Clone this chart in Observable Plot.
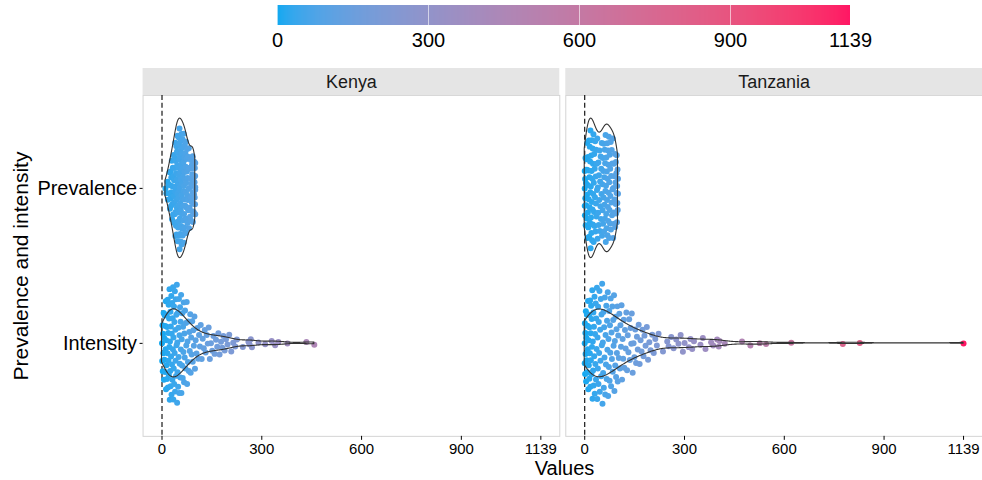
<!DOCTYPE html>
<html><head><meta charset="utf-8">
<script src="https://cdn.jsdelivr.net/npm/d3@7"></script>
<script src="https://cdn.jsdelivr.net/npm/@observablehq/plot@0.6"></script>
<style>
body{margin:0;background:#fff;font-family:"Liberation Sans",Arial,sans-serif;}
#wrap{position:relative;width:982px;height:480px;overflow:hidden;background:#fff;}
#legend{position:absolute;left:247px;top:0;}
#chart{position:absolute;left:0;top:60px;}
.t{position:absolute;color:#000;white-space:nowrap;line-height:20px;}
#chart [aria-label="x-axis tick"], #chart [aria-label="y-axis tick"]{stroke:#b3b3b3;}
</style></head><body>
<div id="wrap">
<div id="legend"></div>
<div id="chart"></div>
<div class="t" style="left:145px;width:839px;text-align:center;top:458px;font-size:20px;">Values</div>
<div class="t" style="left:-179px;top:256px;width:400px;text-align:center;font-size:21px;transform:rotate(-90deg);">Prevalence and intensity</div>
</div>
<script>
const countries = ["Kenya", "Tanzania"];
const metrics = ["Prevalence", "Intensity"];
const xTicks = [0, 300, 600, 900, 1139];
const colorLow = "#13a9f1", colorHigh = "#ff1764";

const kenyaPrevalence = [10.4,13.2,16.5,17.8,19.1,21.3,22.6,23.9,24.4,25.7,26.3,27.1,27.9,28.6,29.4,
30.2,31.1,31.8,32.5,33.3,34.0,34.8,35.2,35.9,36.4,37.0,37.6,38.1,38.7,39.3,39.8,
40.1,40.6,41.0,41.5,42.0,42.4,42.9,43.3,43.8,44.2,44.7,45.0,45.4,45.8,46.2,46.6,47.0,47.3,47.7,48.1,48.5,48.9,49.3,49.7,
50.0,50.4,50.7,51.1,51.5,51.8,52.2,52.6,52.9,53.3,53.7,54.0,54.4,54.8,55.1,55.5,55.9,56.3,56.7,57.0,57.4,57.8,58.2,58.6,59.0,59.4,59.8,
60.2,60.6,61.0,61.4,61.9,62.3,62.7,63.1,63.5,63.9,64.3,64.8,65.2,65.6,66.0,66.4,66.9,67.3,67.7,68.1,68.5,69.0,69.4,69.8,
70.3,70.7,71.2,71.6,72.1,72.5,73.0,73.4,73.9,74.3,74.8,75.4,75.9,76.5,77.1,77.6,78.2,78.8,79.3,79.9,
80.6,81.3,82.0,82.8,83.5,84.2,84.9,85.8,86.7,87.6,88.4,89.2,89.9,
90.4,91.0,91.7,92.3,92.9,93.5,94.1,94.7,95.2,95.8,96.3,96.9,97.4,97.9,98.4,98.8,99.3,99.7,100,100,100,100];

const kenyaIntensity = [0,0.6,1.4,2.3,3.1,4.0,4.9,5.8,6.6,7.5,8.3,9.2,
10.0,10.7,11.4,12.1,12.8,13.5,14.2,15.0,15.7,16.4,17.1,17.8,18.6,19.3,
20.0,20.7,21.3,22.0,22.6,23.3,24.0,24.6,25.3,26.0,26.6,27.3,28.0,28.6,29.3,
30.0,30.7,31.3,32.0,32.6,33.3,34.0,34.6,35.3,36.0,36.6,37.3,38.0,38.6,39.3,
40.0,40.8,41.5,42.3,43.1,43.8,44.6,45.4,46.2,46.9,47.7,48.5,49.2,
50.1,50.9,51.7,52.6,53.4,54.2,55.0,55.9,56.7,57.5,58.4,59.2,
60.3,61.3,62.3,63.3,64.3,65.3,66.3,67.3,68.3,69.3,
70.5,71.8,73.0,74.3,75.5,76.8,78.0,79.3,80.6,82.0,83.4,84.9,86.3,87.7,89.1,
90.8,92.5,94.1,95.8,97.5,99.1,101.2,103.8,106.3,108.9,111.4,114.0,
116.5,119.3,122.4,125.6,128.7,131.2,134.5,137.6,140.3,143.8,147.1,151.0,154.6,158.2,
162.3,166.0,169.4,173.1,177.5,181.2,184.6,188.3,192.4,197.0,202.1,208.3,214.0,220.2,
225.1,243.0,259.8,263.2,267.0,270.4,290.1,310.3,329.7,340.2,350.1,377.0,434.2,458.0];

const tanzaniaPrevalence = [0,0,0,0.4,1.1,1.7,2.3,2.9,3.6,4.3,5.0,5.6,6.3,6.9,7.6,8.2,8.9,9.5,
10.1,10.8,11.4,12.1,12.7,13.4,14.0,14.6,15.1,15.6,16.2,16.7,17.3,17.8,18.4,18.9,19.5,
20.0,20.6,21.1,21.7,22.2,22.8,23.3,23.9,24.4,25.0,25.6,26.2,26.8,27.4,28.1,28.7,29.4,
30.1,30.8,31.5,32.2,33.0,33.7,34.4,35.2,36.0,36.9,37.7,38.6,39.4,
40.3,41.1,42.0,42.8,43.7,44.5,45.4,46.2,47.1,47.9,48.8,49.6,
50.4,51.2,52.1,52.9,53.7,54.6,55.3,56.0,56.7,57.4,58.1,58.8,59.5,
60.2,60.8,61.4,62.1,62.7,63.3,64.0,64.6,65.2,65.8,66.4,67.1,67.7,68.3,68.9,69.6,
70.2,70.8,71.4,72.1,72.7,73.3,73.9,74.6,75.3,76.0,76.7,77.4,78.1,78.8,79.5,
80.4,81.2,82.1,82.9,83.7,84.6,85.4,86.2,87.1,87.9,88.7,89.6,
90.3,91.0,91.7,92.4,93.1,93.8,94.5,95.1,95.7,96.3,96.9,97.5,98.1,98.7,99.3,100,100];

const tanzaniaIntensity = [0,0,0.5,1.2,1.9,2.6,3.4,4.1,4.9,5.7,6.5,7.3,8.2,9.1,
10.0,10.8,11.5,12.3,13.1,13.9,14.6,15.4,16.2,17.0,17.7,18.5,19.3,
20.1,20.9,21.8,22.6,23.5,24.3,25.1,26.0,26.8,27.7,28.5,29.4,
30.2,31.1,32.0,33.0,33.9,34.8,35.7,36.7,37.6,38.5,39.4,
40.3,41.3,42.3,43.3,44.3,45.3,46.3,47.3,48.3,49.3,
50.4,51.4,52.4,53.4,54.4,55.4,56.4,57.4,58.4,59.4,
60.5,61.6,62.7,63.8,64.9,66.0,67.1,68.2,69.3,
70.4,71.5,72.6,73.7,74.8,75.9,77.0,78.1,79.2,
80.6,81.8,83.1,84.3,85.6,86.8,88.1,89.3,
90.6,91.8,93.1,94.3,95.6,96.8,98.1,99.3,
100.8,102.4,104.1,105.7,107.4,109.0,110.7,112.3,114.0,115.6,117.3,118.9,
121.0,123.1,125.2,127.3,129.4,131.5,133.6,135.7,137.8,139.9,
141.5,144.2,146.8,149.3,151.9,154.4,157.0,159.5,
162.2,165.1,168.0,170.9,173.8,176.7,179.6,182.9,186.7,190.4,194.2,198.0,
203.1,207.6,212.2,216.9,222.0,235.3,248.1,252.4,260.2,267.3,275.1,282.0,288.4,295.2,
300.3,313.0,318.1,323.2,328.4,348.0,355.2,363.1,380.0,386.2,398.1,403.0,405.3,421.2,
473.0,498.1,526.3,545.2,621.0,776.0,827.1,1139];

const groups = [
  {country: "Kenya", metric: "Prevalence", values: kenyaPrevalence},
  {country: "Kenya", metric: "Intensity", values: kenyaIntensity},
  {country: "Tanzania", metric: "Prevalence", values: tanzaniaPrevalence},
  {country: "Tanzania", metric: "Intensity", values: tanzaniaIntensity}
];
const level = {Prevalence: 2, Intensity: 1};

// Gaussian KDE with R's nrd0 bandwidth (as ggplot2 stat_ydensity / vipor)
function bwNrd0(vals) {
  const s = vals.slice().sort(d3.ascending);
  const sd = d3.deviation(s);
  const iqr = d3.quantileSorted(s, 0.75) - d3.quantileSorted(s, 0.25);
  let lo = Math.min(sd, iqr / 1.34);
  if (!(lo > 0)) lo = sd || 1;
  return 0.9 * lo * Math.pow(s.length, -0.2);
}
function densityFn(vals) {
  const bw = bwNrd0(vals), k = 1 / Math.sqrt(2 * Math.PI), n = vals.length;
  return x => d3.sum(vals, v => k * Math.exp(-0.5 * ((x - v) / bw) ** 2)) / (n * bw);
}
function vanDerCorput(i) {
  let v = 0, denom = 1;
  while (i > 0) { denom *= 2; v += (i % 2) / denom; i = Math.floor(i / 2); }
  return v;
}

const violin = [], points = [];
const panelMax = {};
for (const g of groups) {
  g.dens = densityFn(g.values);
  const [lo, hi] = d3.extent(g.values);
  g.grid = d3.range(512).map(i => {
    const v = lo + (hi - lo) * i / 511;
    return {v, d: g.dens(v)};
  });
  g.max = d3.max(g.grid, p => p.d);
  panelMax[g.country] = Math.max(panelMax[g.country] || 0, g.max);
}
for (const g of groups) {
  const c = level[g.metric];
  for (const p of g.grid) {
    const hw = 0.45 * p.d / panelMax[g.country];
    violin.push({country: g.country, metric: g.metric, v: p.v, lo: c - hw, hi: c + hw});
  }
  const order = d3.range(g.values.length).sort((a, b) => g.values[a] - g.values[b] || a - b);
  order.forEach((idx, r) => {
    const value = g.values[idx];
    const off = (vanDerCorput(r + 1) - 0.5) * 2 * 0.4 * g.dens(value) / g.max;
    points.push({country: g.country, metric: g.metric, value, y: c + off});
  });
}

const xDom = [-0.05 * 1139, 1139 * 1.05];
const yDom = [0.4, 2.6];
const H = 420, mT = 35, mB = 43;
const stripUnits = 27 * (yDom[1] - yDom[0]) / (H - mT - mB);

const chart = Plot.plot({
  width: 985, height: H, marginTop: mT, marginBottom: mB, marginLeft: 143, marginRight: 0,
  style: {fontFamily: "Liberation Sans, Arial, sans-serif", background: "white", color: "#000"},
  fx: {domain: countries, paddingInner: 0.0142, paddingOuter: 0, round: false, axis: null, label: null},
  x: {domain: xDom, label: null},
  y: {domain: yDom, label: null},
  color: {type: "linear", domain: [0, 1139], range: [colorLow, colorHigh], interpolate: "lab"},
  marks: [
    Plot.rect(countries, {fx: d => d, x1: xDom[0], x2: xDom[1], y1: yDom[1], y2: yDom[1] + stripUnits, fill: "#e5e5e5"}),
    Plot.text(countries, {fx: d => d, text: d => d, frameAnchor: "top", lineAnchor: "middle", dy: -13.5, fontSize: 18, fill: "#1a1a1a"}),
    Plot.frame({stroke: "#d4d4d4"}),
    Plot.ruleX([0], {stroke: "#000", strokeDasharray: "5,3", strokeWidth: 1.1}),
    Plot.dot(points, {fx: "country", x: "value", y: "y", fill: "value", r: 3}),
    Plot.areaY(violin, {fx: "country", x: "v", y1: "lo", y2: "hi", z: "metric", fill: "none", stroke: "#333", strokeWidth: 1.1}),
    Plot.axisX({ticks: xTicks, tickFormat: d => String(d), fontSize: 15, tickSize: 4, tickPadding: 3, label: null}),
    Plot.axisY({ticks: [1, 2], tickFormat: d => d === 2 ? metrics[0] : metrics[1], fontSize: 20, tickSize: 3, tickPadding: 3, label: null})
  ]
});
document.getElementById("chart").appendChild(chart);

const leg = chart.legend("color", {
  width: 633, height: 55, marginTop: 5, marginBottom: 30, marginLeft: 30, marginRight: 30,
  ticks: xTicks, tickFormat: d => String(d), tickSize: 5, label: null,
  style: {fontSize: "20px", fontFamily: "Liberation Sans, Arial, sans-serif", color: "#000", background: "transparent"}
});
d3.select(leg).selectAll(".tick line").attr("stroke", "#fff").attr("stroke-opacity", 0.6).attr("y2", 0);
document.getElementById("legend").appendChild(leg);
</script>
</body></html>
